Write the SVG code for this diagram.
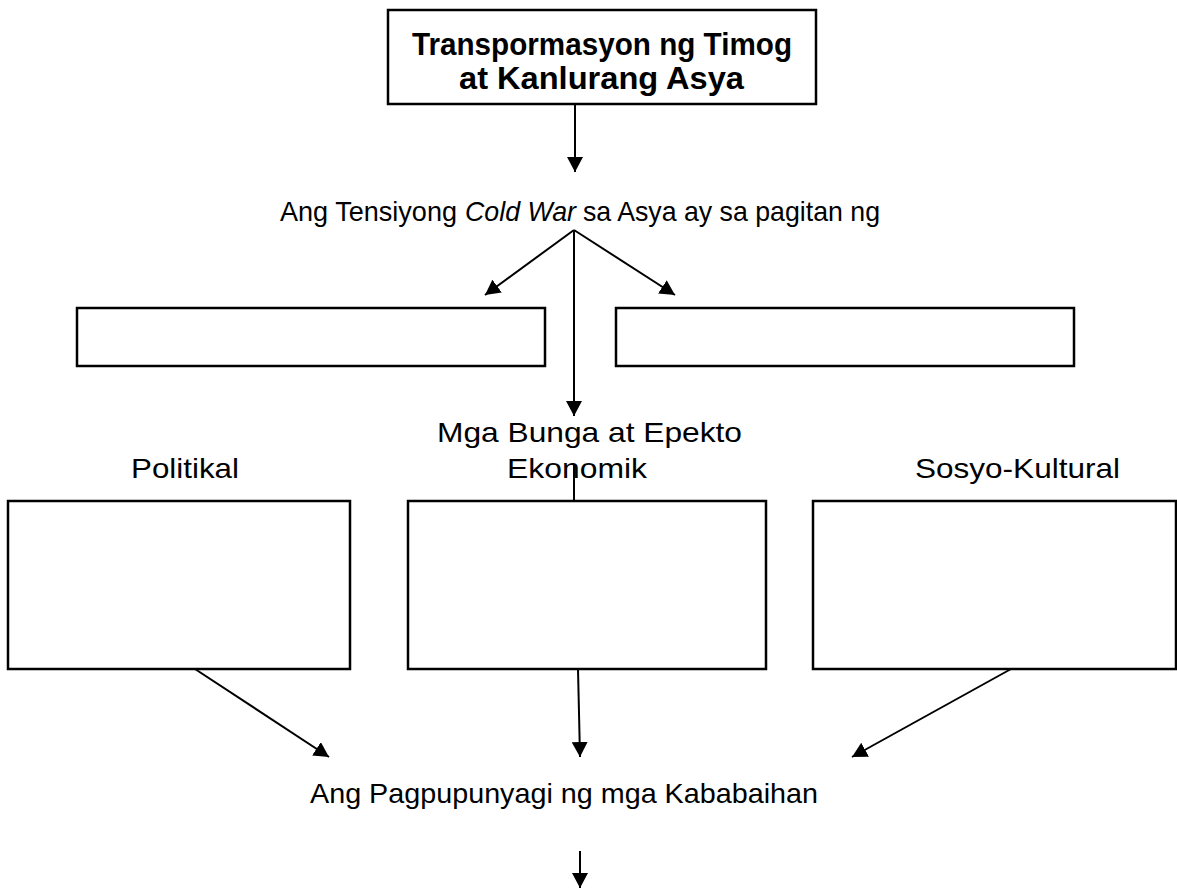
<svg xmlns="http://www.w3.org/2000/svg" width="1177" height="888" viewBox="0 0 1177 888">
<defs>
<marker id="ah" markerUnits="userSpaceOnUse" markerWidth="16" markerHeight="16" refX="15" refY="8" orient="auto">
<path d="M0,0 L15,8 L0,16 Z" fill="#000"/>
</marker>
<style>
.box{fill:#fff;stroke:#000;stroke-width:2.5}
.t{font-family:"Liberation Sans",Arial,sans-serif;font-size:28px;fill:#000}
.b{font-weight:bold;font-size:31px}
.i{font-style:italic}
.c{stroke:#000;stroke-width:2;fill:none}
.a{marker-end:url(#ah)}
</style>
</defs>
<rect width="1177" height="888" fill="#fff"/>
<g id="title">
<rect class="box" x="388" y="10" width="428" height="94"/>
<text class="t b" x="412" y="55" textLength="380" lengthAdjust="spacingAndGlyphs">Transpormasyon ng Timog</text>
<text class="t b" x="459" y="89" textLength="285" lengthAdjust="spacingAndGlyphs">at Kanlurang Asya</text>
</g>
<g id="tension">
<text class="t" x="280" y="221" textLength="177" lengthAdjust="spacingAndGlyphs">Ang Tensiyong</text>
<text class="t i" x="465" y="221" textLength="111" lengthAdjust="spacingAndGlyphs">Cold War</text>
<text class="t" x="583" y="221" textLength="297" lengthAdjust="spacingAndGlyphs">sa Asya ay sa pagitan ng</text>
</g>
<g id="left-box"><rect class="box" x="77" y="308" width="468" height="58"/></g>
<g id="right-box"><rect class="box" x="616" y="308" width="458" height="58"/></g>
<g id="bunga">
<text class="t" x="437" y="442" textLength="305" lengthAdjust="spacingAndGlyphs">Mga Bunga at Epekto</text>
</g>
<g id="politikal">
<text class="t" x="131" y="478" textLength="108" lengthAdjust="spacingAndGlyphs">Politikal</text>
<rect class="box" x="8" y="501" width="342" height="168"/>
</g>
<g id="ekonomik">
<text class="t" x="507" y="478" textLength="140" lengthAdjust="spacingAndGlyphs">Ekonomik</text>
<rect class="box" x="408" y="501" width="358" height="168"/>
</g>
<g id="sosyo">
<text class="t" x="915" y="478" textLength="205" lengthAdjust="spacingAndGlyphs">Sosyo-Kultural</text>
<rect class="box" x="813" y="501" width="363" height="168"/>
</g>
<g id="kababaihan">
<text class="t" x="310" y="803" textLength="508" lengthAdjust="spacingAndGlyphs">Ang Pagpupunyagi ng mga Kababaihan</text>
</g>
<g id="connectors">
<line class="c a" x1="575" y1="104" x2="575" y2="172"/>
<line class="c a" x1="574" y1="230" x2="485" y2="295"/>
<line class="c a" x1="574" y1="230" x2="675" y2="295"/>
<line class="c a" x1="574" y1="230" x2="574" y2="416"/>
<line class="c" x1="574" y1="465" x2="574" y2="501"/>
<line class="c a" x1="195" y1="669" x2="329" y2="757"/>
<line class="c a" x1="578" y1="669" x2="580" y2="757"/>
<line class="c a" x1="1011" y1="669" x2="852" y2="757"/>
<line class="c a" x1="580" y1="851" x2="580" y2="888"/>
</g>
</svg>
